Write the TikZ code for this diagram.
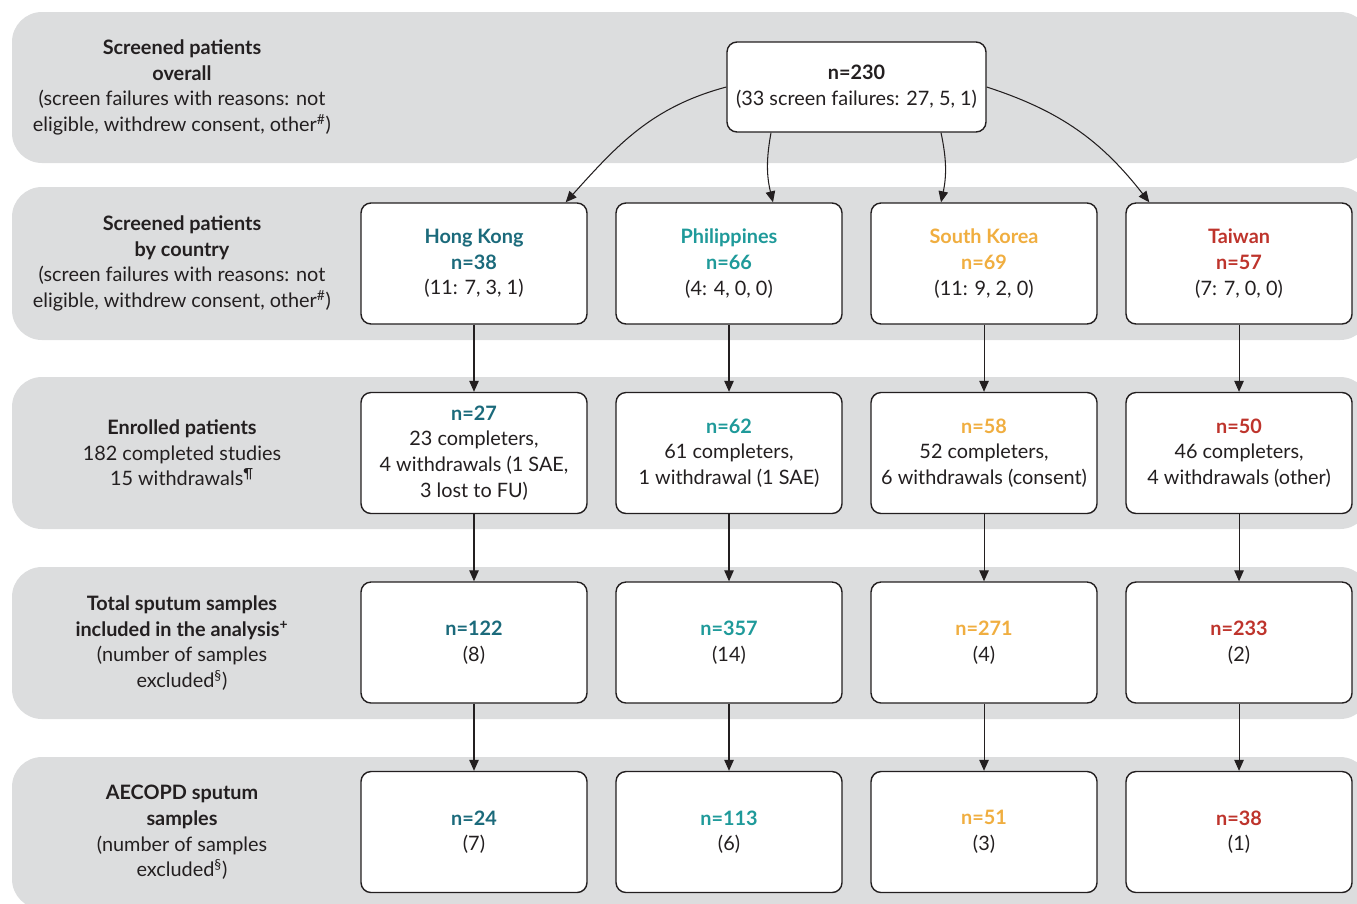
\documentclass[tikz,border=0pt]{standalone}
\usepackage{fontspec}
\setmainfont{Lato}
\usetikzlibrary{positioning, arrows.meta}

\definecolor{bandgray}{HTML}{DCDDDE}
\definecolor{ink}{HTML}{231F20}
\definecolor{hkcol}{HTML}{1B6A7B}
\definecolor{phcol}{HTML}{1F9A9A}
\definecolor{skcol}{HTML}{F0AE40}
\definecolor{twcol}{HTML}{BE342C}

\begin{document}
\begin{tikzpicture}[font = \fontsize{11.3}{14.6}\selectfont,
  band/.style = {fill = bandgray, rounded corners = 0.6cm},
  site/.style = {draw = ink, fill = white, rounded corners = 0.2cm, line width = 0.8pt,
    minimum width = 4.52cm, minimum height = 2.42cm, inner sep = 0pt, align = center, text = ink},
  rowlabel/.style = {align = center, text = ink},
  edge/.style = {-{Triangle[length = 0.22cm, width = 0.19cm]}, draw = ink, line width = 0.6pt},
  node distance = 1.342cm and 0.552cm]

  \useasboundingbox (0,0) rectangle (27.14,-18.06);
  \clip (0,0) rectangle (27.14,-18.06);

  % grey rows
  \foreach \top/\bot in {0.24/3.26, 3.74/6.8, 7.54/10.58, 11.34/14.38, 15.14/18.18}
    \fill[band] (0.24,-\top) rectangle (27.4,-\bot);

  % row labels
  \node[rowlabel] (lab-0) at (3.64,-1.75) {\textbf{Screened patients}\\\textbf{overall}\\(screen failures with reasons: not\\eligible, withdrew consent, other\textsuperscript{\#})};
  \node[rowlabel] (lab-1) at (3.64,-5.27) {\textbf{Screened patients}\\\textbf{by country}\\(screen failures with reasons: not\\eligible, withdrew consent, other\textsuperscript{\#})};
  \node[rowlabel] (lab-2) at (3.64,-9.06) {\textbf{Enrolled patients}\\182 completed studies\\15 withdrawals\textsuperscript{¶}};
  \node[rowlabel] (lab-3) at (3.64,-12.86) {\textbf{Total sputum samples}\\\textbf{included in the analysis\textsuperscript{+}}\\(number of samples\\excluded\textsuperscript{§})};
  \node[rowlabel] (lab-4) at (3.64,-16.65) {\textbf{AECOPD sputum}\\\textbf{samples}\\(number of samples\\excluded\textsuperscript{§})};

  % overall
  \node[site, minimum width = 5.18cm, minimum height = 1.8cm] (all) at (17.13,-1.74) {\textbf{n=230}\\(33 screen failures: 27, 5, 1)};

  % screened by country
  \node[site] (hk-1) at (9.48,-5.27) {\textcolor{hkcol}{\textbf{Hong Kong}}\\\textcolor{hkcol}{\textbf{n=38}}\\(11: 7, 3, 1)};
  \node[site, right = of hk-1] (ph-1) {\textcolor{phcol}{\textbf{Philippines}}\\\textcolor{phcol}{\textbf{n=66}}\\(4: 4, 0, 0)};
  \node[site, right = of ph-1] (sk-1) {\textcolor{skcol}{\textbf{South Korea}}\\\textcolor{skcol}{\textbf{n=69}}\\(11: 9, 2, 0)};
  \node[site, right = of sk-1] (tw-1) {\textcolor{twcol}{\textbf{Taiwan}}\\\textcolor{twcol}{\textbf{n=57}}\\(7: 7, 0, 0)};

  % enrolled
  \node[site, below = of hk-1] (hk-2) {\textcolor{hkcol}{\textbf{n=27}}\\23 completers,\\4 withdrawals (1 SAE,\\3 lost to FU)};
  \node[site, below = of ph-1] (ph-2) {\textcolor{phcol}{\textbf{n=62}}\\61 completers,\\1 withdrawal (1 SAE)};
  \node[site, below = of sk-1] (sk-2) {\textcolor{skcol}{\textbf{n=58}}\\52 completers,\\6 withdrawals (consent)};
  \node[site, below = of tw-1] (tw-2) {\textcolor{twcol}{\textbf{n=50}}\\46 completers,\\4 withdrawals (other)};

  % total sputum samples
  \node[site, below = of hk-2] (hk-3) {\textcolor{hkcol}{\textbf{n=122}}\\(8)};
  \node[site, below = of ph-2] (ph-3) {\textcolor{phcol}{\textbf{n=357}}\\(14)};
  \node[site, below = of sk-2] (sk-3) {\textcolor{skcol}{\textbf{n=271}}\\(4)};
  \node[site, below = of tw-2] (tw-3) {\textcolor{twcol}{\textbf{n=233}}\\(2)};

  % AECOPD samples
  \node[site, below = of hk-3] (hk-4) {\textcolor{hkcol}{\textbf{n=24}}\\(7)};
  \node[site, below = of ph-3] (ph-4) {\textcolor{phcol}{\textbf{n=113}}\\(6)};
  \node[site, below = of sk-3] (sk-4) {\textcolor{skcol}{\textbf{n=51}}\\(3)};
  \node[site, below = of tw-3] (tw-4) {\textcolor{twcol}{\textbf{n=38}}\\(1)};

  \draw[edge] (all.west) to[out = 195, in = 48] ([xshift = -0.44cm]hk-1.north east);
  \draw[edge] ([xshift = -1.71cm]all.south) to[bend right = 12] ([xshift = 0.88cm]ph-1.north);
  \draw[edge] ([xshift = 1.69cm]all.south) to[bend left = 12] ([xshift = -0.86cm]sk-1.north);
  \draw[edge] (all.east) to[out = -18, in = 128] ([xshift = 0.48cm]tw-1.north west);

  \foreach \col in {hk, ph, sk, tw} {
    \draw[edge] (\col-1) -- (\col-2);
    \draw[edge] (\col-2) -- (\col-3);
    \draw[edge] (\col-3) -- (\col-4);
  }
\end{tikzpicture}
\end{document}
